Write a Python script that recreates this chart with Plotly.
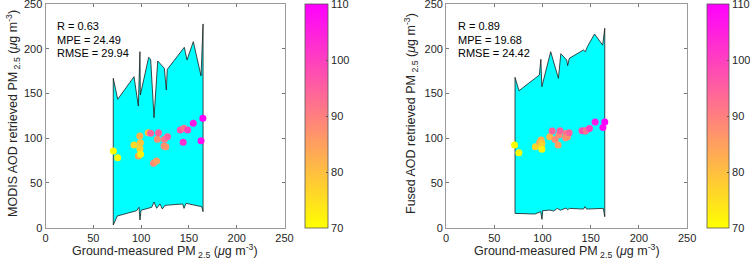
import plotly.graph_objects as go

# ---- data ----
ground = [71.0, 75.5, 92.6, 97.1, 98.6, 99.3, 98.8, 99.4, 107.5, 110.0, 113.0, 116.2,
          117.0, 118.2, 124.0, 124.4, 125.9, 127.6, 141.0, 144.0, 144.9, 148.7, 154.6,
          162.7, 164.6]
modis = [85.7, 78.2, 92.4, 80.1, 102.5, 95.0, 88.3, 82.0, 106.2, 105.5, 72.0, 74.5,
         98.8, 106.2, 91.3, 98.8, 90.5, 101.7, 109.2, 95.4, 111.1, 109.2, 116.7, 97.2, 122.3]
fused = [92.4, 83.8, 90.5, 95.5, 98.0, 94.3, 92.0, 87.6, 101.7, 108.0, 98.7, 92.4,
         103.6, 108.4, 100.5, 105.4, 101.7, 106.2, 108.4, 108.0, 108.4, 111.0, 118.1,
         112.1, 118.1]
colour_val = [70, 71, 76, 84, 82, 79, 77, 72, 81, 95, 88, 85, 88, 95, 88, 91, 87, 95,
              97, 103, 92, 100, 106, 108, 110]

modis_up_x = [70.9, 75.5, 92.6, 97.1, 98.8, 99.2, 107.9, 110.0, 113.5, 117.4, 124.3,
              126.4, 127.4, 140.7, 145.2, 148.0, 154.6, 162.7, 164.8]
modis_up_y = [167.0, 143.5, 168.8, 136.0, 196.7, 148.3, 190.4, 188.2, 123.0, 186.3, 178.2,
              153.9, 177.0, 194.9, 201.6, 187.4, 207.9, 169.6, 227.7]
modis_lo_x = [70.9, 75.1, 95.4, 97.8, 98.8, 99.9, 111.1, 113.5, 116.3, 119.8, 122.2,
              125.0, 143.5, 144.9, 147.0, 163.4, 164.8]
modis_lo_y = [3.0, 13.1, 19.0, 22.8, 8.6, 19.5, 22.8, 28.7, 21.7, 26.5, 20.9, 25.0,
              26.5, 21.6, 27.2, 23.5, 17.9]

fused_up_x = [71.5, 75.6, 96.7, 98.3, 99.3, 108.5, 116.5, 119.0, 125.1, 126.1, 127.8,
              142.5, 144.5, 146.5, 154.0, 162.4, 164.6]
fused_up_y = [168.0, 153.1, 170.6, 188.2, 157.6, 196.7, 166.9, 194.5, 187.4, 181.1, 189.3,
              198.6, 196.7, 202.3, 216.5, 204.0, 222.8]
fused_lo_x = [71.5, 92.2, 98.1, 99.5, 100.2, 107.8, 111.5, 115.4, 118.5, 124.4, 126.1,
              127.8, 142.5, 144.1, 145.8, 163.1, 164.6]
fused_lo_y = [16.0, 15.3, 17.9, 9.3, 19.0, 19.7, 18.6, 21.6, 19.5, 22.0, 20.0, 21.6,
              20.8, 23.5, 20.8, 21.6, 12.3]

ticks = [0, 50, 100, 150, 200, 250]
cbar_ticks = [70, 80, 90, 100, 110]
stats_modis = ["R = 0.63", "MPE = 24.49", "RMSE = 29.94"]
stats_fused = ["R = 0.89", "MPE = 19.68", "RMSE = 24.42"]

W, H = 750, 269
FONT = "Liberation Sans, Arial, sans-serif"
scale = [[0, "rgb(255,255,0)"], [1, "rgb(255,0,255)"]]

fig = go.Figure()


def add_panel(n, upx, upy, lox, loy, yvals, cbx, cbw):
    xa = "x" if n == 1 else "x2"
    ya = "y" if n == 1 else "y2"
    px = upx + lox[::-1] + [upx[0]]
    py = upy + loy[::-1] + [upy[0]]
    fig.add_trace(go.Scatter(x=px, y=py, mode="lines", fill="toself",
                             fillcolor="#00FFFF", line=dict(color="#1a1a1a", width=0.8),
                             xaxis=xa, yaxis=ya, showlegend=False, hoverinfo="skip"))
    fig.add_trace(go.Scatter(
        x=ground, y=yvals, mode="markers", xaxis=xa, yaxis=ya, showlegend=False,
        marker=dict(size=7, color=colour_val, colorscale=scale, cmin=70, cmax=110,
                    line=dict(width=0), showscale=True,
                    colorbar=dict(x=cbx / W, xanchor="left", xpad=0, ypad=0,
                                  y=(H - 228) / H, yanchor="bottom",
                                  len=224, lenmode="pixels",
                                  thickness=cbw, thicknessmode="pixels",
                                  outlinewidth=0.8, outlinecolor="#555555",
                                  tickvals=cbar_ticks, ticks="inside", ticklen=2,
                                  tickcolor="#555555", ticklabeloverflow="allow",
                                  tickfont=dict(family=FONT, size=11, color="#262626"))),
    ))


add_panel(1, modis_up_x, modis_up_y, modis_lo_x, modis_lo_y, modis, 305, 23)
add_panel(2, fused_up_x, fused_up_y, fused_lo_x, fused_lo_y, fused, 707, 22)

axis_common = dict(range=[0, 250], tickvals=ticks, ticks="inside", ticklen=3,
                   tickcolor="#777777", showline=True, linecolor="#9a9a9a", linewidth=1,
                   mirror="allticks", showgrid=False, zeroline=False,
                   ticklabeloverflow="allow",
                   tickfont=dict(family=FONT, size=11, color="#262626"))
ydom = [(H - 227.7) / H, (H - 4) / H]

fig.update_layout(
    width=W, height=H, margin=dict(l=0, r=0, t=0, b=0, pad=0, autoexpand=False),
    paper_bgcolor="white", plot_bgcolor="white", hovermode=False,
    xaxis=dict(domain=[45.5 / W, 284.5 / W], anchor="y", **axis_common),
    yaxis=dict(domain=ydom, anchor="x", **axis_common),
    xaxis2=dict(domain=[446.1 / W, 687.1 / W], anchor="y2", **axis_common),
    yaxis2=dict(domain=ydom, anchor="x2", **axis_common),
)

ann = []
ystats = [225.4, 209.8, 194.9]
for xr, yr, stats in (("x", "y", stats_modis), ("x2", "y2", stats_fused)):
    for t, yy in zip(stats, ystats):
        ann.append(dict(x=10, y=yy, xref=xr, yref=yr, text=t, showarrow=False,
                        xanchor="left", yanchor="middle",
                        font=dict(family=FONT, size=11, color="black")))

unit = "(<i>μ</i>g m<sup>-3</sup>)"
xlab = "Ground-measured PM<sub> 2.5</sub> " + unit
for cx in (165, 566.6):
    ann.append(dict(x=cx / W, y=(H - 251) / H, xref="paper", yref="paper", text=xlab,
                    showarrow=False, xanchor="center", yanchor="middle",
                    font=dict(family=FONT, size=12.5, color="#262626")))
for cx, lab in ((13, "MODIS AOD retrieved PM<sub> 2.5</sub> " + unit),
                (411, "Fused AOD retrieved PM<sub> 2.5</sub> " + unit)):
    ann.append(dict(x=cx / W, y=(H - 114) / H, xref="paper", yref="paper", text=lab,
                    showarrow=False, xanchor="center", yanchor="middle", textangle=-90,
                    font=dict(family=FONT, size=12.5, color="#262626")))
fig.update_layout(annotations=ann)

fig.write_html("out.html", config={"displayModeBar": False, "staticPlot": True},
               post_script="document.body.style.margin='0';"
                           "document.body.style.overflow='hidden';")
